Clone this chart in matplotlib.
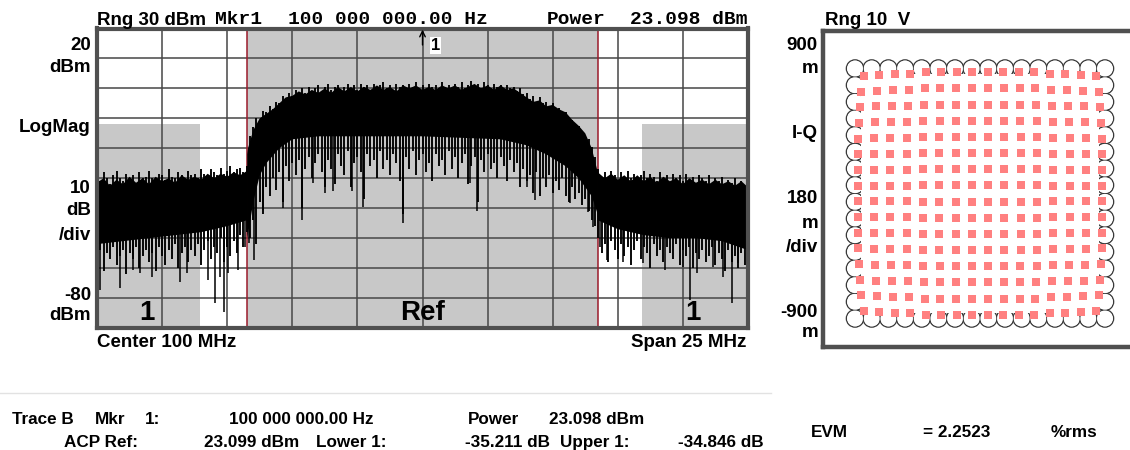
import numpy as np
import matplotlib
matplotlib.use("Agg")
import matplotlib.pyplot as plt
from matplotlib.patches import Rectangle, Circle
from matplotlib.ticker import MultipleLocator

# ---------------- data ----------------
freq_start, freq_stop = 87.5, 112.5          # MHz (Center 100 MHz, Span 25 MHz)
db_bottom, db_top = -80, 20                   # dBm
ref_lo, ref_hi = 93.27, 106.73                # reference channel edges (MHz)
adj_lo_edge, adj_hi_edge = 91.46, 108.43      # adjacent channel boxes inner edges
adj_top = -11.8                               # adjacent channel limit (dBm)
marker_freq = 100.0

# solid core of the trace: upper edge / lower edge (freq MHz, dBm)
left_top = [(87.50, -31.5), (87.75, -30.0), (88.00, -32.5), (88.25, -30.5), (88.50, -32.0),
            (88.75, -29.5), (89.00, -31.5), (89.25, -30.0), (89.50, -32.0), (89.75, -29.5),
            (90.00, -31.0), (90.25, -30.0), (90.50, -31.5), (90.75, -29.0), (91.00, -30.5),
            (91.25, -29.5), (91.50, -30.5), (91.75, -28.5), (92.00, -30.0), (92.25, -28.5),
            (92.50, -29.5), (92.75, -28.0), (93.00, -29.0), (93.27, -27.5)]
left_bot = [(87.5, -52), (88.5, -51), (89.5, -50), (90.5, -49), (91.5, -48), (92.5, -46), (93.27, -44)]

main_top = [(93.27, -22), (93.30, -20), (93.50, -14), (93.75, -10), (94.00, -8.5), (94.25, -7),
            (94.50, -5), (94.75, -3), (95.00, -2.5), (95.25, -1), (95.50, -2), (95.75, -0.5),
            (96.00, -1.5), (96.25, 0), (96.50, -1.5), (96.75, 0.5), (97.00, -1), (97.25, 0.5),
            (97.50, -1), (97.75, 0.5), (98.00, -0.5), (98.25, 1), (98.50, -0.5), (98.75, 0.5),
            (99.00, -1), (99.25, 1), (99.50, 0), (99.75, 1), (100.00, -0.5), (100.25, 0.5),
            (100.50, -0.5), (100.75, 1), (101.00, 0), (101.25, 1), (101.50, -0.5), (101.75, 0.5),
            (102.00, 1.5), (102.25, 0), (102.50, 1), (102.75, -0.5), (103.00, 1), (103.25, -0.5),
            (103.50, 0), (103.75, -1.5), (104.00, -3), (104.25, -4.5), (104.50, -4), (104.75, -6),
            (105.00, -5.5), (105.25, -7), (105.50, -8), (105.75, -10.5), (106.00, -12.5),
            (106.25, -15), (106.50, -20), (106.73, -28)]
main_bot = [(93.27, -50), (93.35, -46), (93.50, -38), (93.75, -29), (94.00, -25), (94.50, -20),
            (95.00, -17), (96.00, -16), (100.00, -16), (103.00, -17), (104.00, -19),
            (104.75, -22), (105.50, -26), (106.00, -30), (106.50, -36), (106.73, -42)]

right_top = [(106.73, -28.0), (107.00, -30.0), (107.25, -28.5), (107.50, -30.5), (107.75, -29.0),
             (108.00, -31.0), (108.25, -29.0), (108.50, -31.0), (108.75, -29.5), (109.00, -31.5),
             (109.25, -29.5), (109.50, -31.0), (109.75, -30.0), (110.00, -32.0), (110.25, -30.0),
             (110.50, -31.5), (110.75, -30.5), (111.00, -32.0), (111.25, -30.5), (111.50, -32.0),
             (111.75, -31.0), (112.00, -32.5), (112.25, -31.0), (112.50, -33.0)]
right_bot = [(106.73, -44), (107.5, -47), (108.5, -49), (109.5, -50), (110.5, -50), (111.5, -51), (112.5, -54)]

# trace bins: (freq MHz, max dBm, min dBm)
trace_bins = [
    (87.500, -29, -58), (87.625, -31, -54), (87.750, -28, -61), (87.875, -30, -55), (88.000, -32, -57),
    (88.125, -29, -53), (88.250, -27.5, -59), (88.375, -30, -56), (88.500, -31, -54), (88.625, -28.5, -62),
    (88.750, -30, -55), (88.875, -29, -57), (89.000, -31.5, -53), (89.125, -28, -60), (89.250, -30, -56),
    (89.375, -29.5, -54), (89.500, -27.5, -58), (89.625, -30, -55), (89.750, -31, -61), (89.875, -28.5, -53),
    (90.000, -29, -56), (90.125, -30.5, -59), (90.250, -27, -54), (90.375, -29.5, -57), (90.500, -30, -52),
    (90.625, -28, -60), (90.750, -29, -55), (90.875, -31, -53), (91.000, -27.5, -58), (91.125, -29, -54),
    (91.250, -28.5, -56), (91.375, -30, -52), (91.500, -27, -59), (91.625, -28.5, -54), (91.750, -29.5, -51),
    (91.875, -27, -57), (92.000, -28, -53), (92.125, -29, -55), (92.250, -26.5, -50), (92.375, -28.5, -58),
    (92.500, -27.5, -53), (92.625, -26, -56), (92.750, -28, -51), (92.875, -27, -55), (93.000, -26.5, -49),
    (93.125, -28, -53), (93.250, -26, -48),
    (93.375, -16, -50), (93.500, -13, -44), (93.625, -10, -52), (93.750, -10.5, -38), (93.875, -7.5, -42),
    (94.000, -8, -33), (94.125, -6, -36), (94.250, -7, -30), (94.375, -4.5, -34), (94.500, -5, -28),
    (94.625, -2.5, -38), (94.750, -4, -26), (94.875, -1.5, -31), (95.000, -2.5, -25), (95.125, -0.5, -29),
    (95.250, -2, -24), (95.375, 0, -40), (95.500, -1.5, -27), (95.625, 0.5, -23), (95.750, -1, -30),
    (95.875, 0, -25), (96.000, 1, -22), (96.125, -1, -28), (96.250, 0.5, -33), (96.375, 1.5, -24),
    (96.500, -0.5, -27), (96.625, 0.5, -32), (96.750, 1, -22), (96.875, -1, -26), (97.000, 0.5, -29),
    (97.125, 1.5, -21), (97.250, 0, -33), (97.375, 1, -25), (97.500, -0.5, -23), (97.625, 1.5, -28),
    (97.750, 0.5, -37), (97.875, 1, -22), (98.000, -0.5, -26), (98.125, 1.5, -24), (98.250, 0, -30),
    (98.375, 1, -21), (98.500, 2, -27), (98.625, 0, -24), (98.750, 1, -29), (98.875, -0.5, -22),
    (99.000, 1.5, -25), (99.125, 0.5, -31), (99.250, 1, -42), (99.375, 0, -23), (99.500, 1.5, -27),
    (99.625, 0.5, -21), (99.750, 2, -29), (99.875, 0, -24), (100.000, 1, -22), (100.125, -0.5, -28),
    (100.250, 1.5, -25), (100.375, 0.5, -31), (100.500, 1, -22), (100.625, 0, -26), (100.750, 2, -24),
    (100.875, 0.5, -29), (101.000, 1, -21), (101.125, -0.5, -27), (101.250, 1.5, -23), (101.375, 0.5, -30),
    (101.500, 2, -25), (101.625, 0, -22), (101.750, 1, -32), (101.875, 2.5, -26), (102.000, 0.5, -23),
    (102.125, 1.5, -38), (102.250, 0, -24), (102.375, 2, -28), (102.500, 1, -22), (102.625, 0, -27),
    (102.750, 1.5, -25), (102.875, 0.5, -30), (103.000, 1, -23), (103.125, -0.5, -26), (103.250, 1, -31),
    (103.375, 0, -24), (103.500, 0.5, -28), (103.625, -1, -25), (103.750, 0, -33), (103.875, -2, -27),
    (104.000, -1.5, -31), (104.125, -3.5, -29), (104.250, -2.5, -35), (104.375, -4.5, -28), (104.500, -3, -36),
    (104.625, -5, -30), (104.750, -4.5, -33), (104.875, -6, -29), (105.000, -5, -35), (105.125, -7, -31),
    (105.250, -6.5, -34), (105.375, -8.5, -30), (105.500, -8, -36), (105.625, -10, -38), (105.750, -10.5, -33),
    (105.875, -12, -37), (106.000, -12.5, -35), (106.125, -14.5, -39), (106.250, -15.5, -37), (106.375, -17, -41),
    (106.500, -19.5, -44), (106.625, -23, -46),
    (106.750, -27, -50), (106.875, -29.5, -55), (107.000, -28, -52), (107.125, -30, -58), (107.250, -27.5, -51),
    (107.375, -29, -54), (107.500, -31, -57), (107.625, -28, -52), (107.750, -29.5, -56), (107.875, -27.5, -53),
    (108.000, -30, -59), (108.125, -28.5, -54), (108.250, -31, -51), (108.375, -29, -57), (108.500, -27.5, -53),
    (108.625, -30, -55), (108.750, -28.5, -60), (108.875, -29.5, -52), (109.000, -31, -56), (109.125, -28, -54),
    (109.250, -30, -58), (109.375, -29, -53), (109.500, -31.5, -55), (109.625, -28.5, -57), (109.750, -30, -52),
    (109.875, -29, -59), (110.000, -31, -54), (110.125, -28.5, -56), (110.250, -30.5, -53), (110.375, -29.5, -60),
    (110.500, -31.5, -55), (110.625, -29, -57), (110.750, -30, -54), (110.875, -31, -58), (111.000, -29, -56),
    (111.125, -32, -53), (111.250, -30, -59), (111.375, -31, -55), (111.500, -29.5, -57), (111.625, -32, -61),
    (111.750, -30.5, -54), (111.875, -31.5, -58), (112.000, -30, -56), (112.125, -32.5, -60), (112.250, -31, -55),
    (112.375, -33, -59), (112.500, -31.5, -62)]

# deepest individual dips of the trace (freq MHz, lowest dBm)
spikes = [
    (87.62, -67.3), (88.38, -66.6), (88.88, -60.6), (89.15, -61.6), (89.61, -62.9), (90.69, -64.6),
    (90.96, -61.6), (91.76, -63.9), (92.03, -71.6), (92.22, -62.9), (92.38, -74.6), (92.53, -61.6),
    (92.91, -60.6), (93.18, -52.9), (93.32, -51.6), (93.53, -57.2), (93.87, -40.5), (94.64, -39.9),
    (95.37, -43.9), (95.79, -31.5), (96.26, -34.8), (96.56, -34.4), (97.29, -34.4), (97.71, -39.5),
    (99.25, -44.9), (101.82, -31.5), (102.09, -40.9), (104.01, -32.8), (104.32, -37.2), (105.66, -38.2),
    (106.35, -41.2), (106.55, -46.2), (106.82, -52.9), (107.08, -57.2), (107.70, -57.9), (108.47, -58.3),
    (109.31, -60.6), (110.00, -59.6), (110.27, -70.6), (110.54, -61.6), (111.16, -59.6), (111.54, -62.9),
    (111.89, -71.6), (112.12, -58.3)]

# I-Q constellation (256-QAM levels) and observed compression of rows / columns
iq_levels = [-15, -13, -11, -9, -7, -5, -3, -1, 1, 3, 5, 7, 9, 11, 13, 15]
row_scale = [0.93, 0.95, 0.96, 0.97, 0.98, 0.98, 0.98, 0.98, 0.98, 0.98, 0.98, 0.98, 0.97, 0.96, 0.95, 0.93]
col_scale = [0.94, 0.95, 0.96, 0.96, 0.97, 0.97, 0.97, 0.97, 0.97, 0.97, 0.97, 0.97, 0.96, 0.96, 0.95, 0.94]

# ---------------- figure ----------------
W, H = 1130, 450
fig = plt.figure(figsize=(W / 100, H / 100), dpi=100)
fig.patch.set_facecolor("white")

SANS = ["Liberation Sans", "DejaVu Sans"]
MONO = ["Liberation Mono", "DejaVu Sans Mono"]


def box(x0, y0, x1, y1):
    return [x0 / W, 1 - y1 / H, (x1 - x0) / W, (y1 - y0) / H]


def ptext(x, y, s, **kw):
    kw.setdefault("va", "baseline")
    kw.setdefault("color", "black")
    fig.text(x / W, 1 - y / H, s, **kw)


FRAME = "#505050"
GRAY = "#c8c8c8"

# ---- spectrum panel ----
ax = fig.add_axes(box(97, 28.5, 748, 328))
ax.set_xlim(freq_start, freq_stop)
ax.set_ylim(db_bottom, db_top)
ax.xaxis.set_major_locator(MultipleLocator(2.5))
ax.yaxis.set_major_locator(MultipleLocator(10))
ax.tick_params(length=0, labelbottom=False, labelleft=False)
ax.set_axisbelow(True)
ax.grid(True, color="#474747", lw=1.1)
for sp in ax.spines.values():
    sp.set_linewidth(3)
    sp.set_color(FRAME)

ax.add_patch(Rectangle((ref_lo, db_bottom), ref_hi - ref_lo, db_top - db_bottom,
                       fc=GRAY, ec="none", zorder=0.1))
ax.add_patch(Rectangle((freq_start, db_bottom), adj_lo_edge - freq_start, adj_top - db_bottom,
                       fc=GRAY, ec="none", zorder=0.1))
ax.add_patch(Rectangle((adj_hi_edge, db_bottom), freq_stop - adj_hi_edge, adj_top - db_bottom,
                       fc=GRAY, ec="none", zorder=0.1))
for f in (ref_lo, ref_hi):
    ax.axvline(f, color="#9b1b2b", lw=1.1, zorder=1)

all_bot_f, all_bot_v = [], []
for top, bot in ((left_top, left_bot), (main_top, main_bot), (right_top, right_bot)):
    tf, tv = zip(*top)
    bf, bv = zip(*bot)
    ax.fill(list(tf) + list(bf)[::-1], list(tv) + list(bv)[::-1],
            fc="black", ec="none", zorder=2)
    all_bot_f += list(bf)
    all_bot_v += list(bv)

bf_, bhi, blo = zip(*trace_bins)
ax.vlines(bf_, blo, bhi, color="black", lw=1.35, zorder=2)

sf, sv = zip(*spikes)
order = np.argsort(all_bot_f, kind="stable")
body = np.interp(sf, np.array(all_bot_f)[order], np.array(all_bot_v)[order]) + 4
ax.vlines(sf, sv, body, color="black", lw=1.1, zorder=2)

ax.text(89.42, -77.3, "1", fontsize=20, fontweight="bold", family=SANS, ha="center",
        va="baseline", zorder=4)
ax.text(marker_freq, -77.3, "Ref", fontsize=20, fontweight="bold", family=SANS, ha="center",
        va="baseline", zorder=4)
ax.text(110.39, -77.3, "1", fontsize=20, fontweight="bold", family=SANS, ha="center",
        va="baseline", zorder=4)

ax.annotate("", xy=(marker_freq, 19.6), xytext=(marker_freq, 14.5),
            arrowprops=dict(arrowstyle="->", color="black", lw=1.0, shrinkA=0, shrinkB=0),
            zorder=5)
ax.text(marker_freq + 0.5, 14.3, "1", fontsize=12, fontweight="bold", family=SANS,
        ha="center", va="center", zorder=5,
        bbox=dict(fc="white", ec="none", pad=1.0))

# labels around spectrum panel
ptext(97, 25, "Rng 30 dBm", fontsize=13.5, fontweight="bold", family=SANS)
ptext(215, 24, "Mkr1", fontsize=14, fontweight="bold", family=MONO)
ptext(288, 24, "100 000 000.00 Hz", fontsize=14, fontweight="bold", family=MONO)
ptext(547, 24, "Power", fontsize=14, fontweight="bold", family=MONO)
ptext(748, 24, "23.098 dBm", fontsize=14, fontweight="bold", family=MONO, ha="right")

for s, y in (("20", 50), ("dBm", 72), ("LogMag", 132), ("10", 193), ("dB", 215),
             ("/div", 240), ("-80", 300), ("dBm", 320)):
    ptext(91, y, s, fontsize=13.5, fontweight="bold", family=SANS, ha="right")

ptext(97, 347, "Center 100 MHz", fontsize=13.5, fontweight="bold", family=SANS)
ptext(746, 347, "Span 25 MHz", fontsize=13.5, fontweight="bold", family=SANS, ha="right")

# ---- I-Q panel ----
px = 8.33
cx, cy = 980.0, 193.5
ax2 = fig.add_axes(box(823, 31, 1140, 347))
ax2.set_xlim((823 - cx) / px, (1140 - cx) / px)
ax2.set_ylim((cy - 347) / px, (cy - 31) / px)
ax2.set_xticks([])
ax2.set_yticks([])
for sp in ax2.spines.values():
    sp.set_linewidth(3.2)
    sp.set_color(FRAME)

r = 1.04
edge_pts = [(i, q) for i in iq_levels for q in iq_levels
            if abs(i) == max(iq_levels) or abs(q) == max(iq_levels)]
for (i, q) in edge_pts:
    ax2.add_patch(Circle((i, q), r, fill=False, ec="#3a3a3a", lw=1.0, zorder=1))
for (i, q) in edge_pts:
    ax2.add_patch(Circle((i, q), r - 0.09, fc="white", ec="none", zorder=1.5))
inner = max(iq_levels) - 0.7
ax2.add_patch(Rectangle((-inner, -inner), 2 * inner, 2 * inner, fc="white", ec="none", zorder=1.6))

pts_i, pts_q = [], []
for qi, q in enumerate(iq_levels):
    for ii, i in enumerate(iq_levels):
        pts_i.append(i * row_scale[qi])
        pts_q.append(q * col_scale[ii])
ax2.scatter(pts_i, pts_q, s=38, marker="s", color="#ff8080", lw=0, zorder=3)

ptext(825, 25, "Rng 10  V", fontsize=13.5, fontweight="bold", family=SANS)
for s, y in (("900", 50), ("m", 73), ("I-Q", 138), ("180", 203), ("m", 228),
             ("/div", 252), ("-900", 317), ("m", 337)):
    ptext(818, y, s, fontsize=13.5, fontweight="bold", family=SANS, ha="right")

# ---- bottom readout ----
fig.add_artist(plt.Line2D([0, 771 / W], [1 - 393 / H, 1 - 393 / H], color="#e2e2e2", lw=1.0))
BT = dict(fontsize=12.3, fontweight="bold", family=SANS)
R1, R2 = 424, 447
ptext(12, R1, "Trace B", **BT)
ptext(95, R1, "Mkr", **BT)
ptext(145, R1, "1:", **BT)
ptext(229, R1, "100 000 000.00 Hz", **BT)
ptext(468, R1, "Power", **BT)
ptext(644, R1, "23.098 dBm", ha="right", **BT)
ptext(64, R2, "ACP Ref:", **BT)
ptext(204, R2, "23.099 dBm", **BT)
ptext(316, R2, "Lower 1:", **BT)
ptext(550, R2, "-35.211 dB", ha="right", **BT)
ptext(560, R2, "Upper 1:", **BT)
ptext(764, R2, "-34.846 dB", ha="right", **BT)
ptext(811, 437, "EVM", **BT)
ptext(923, 437, "= 2.2523", **BT)
ptext(1051, 437, "%rms", **BT)

fig.savefig("out.png", dpi=100, facecolor="white")
